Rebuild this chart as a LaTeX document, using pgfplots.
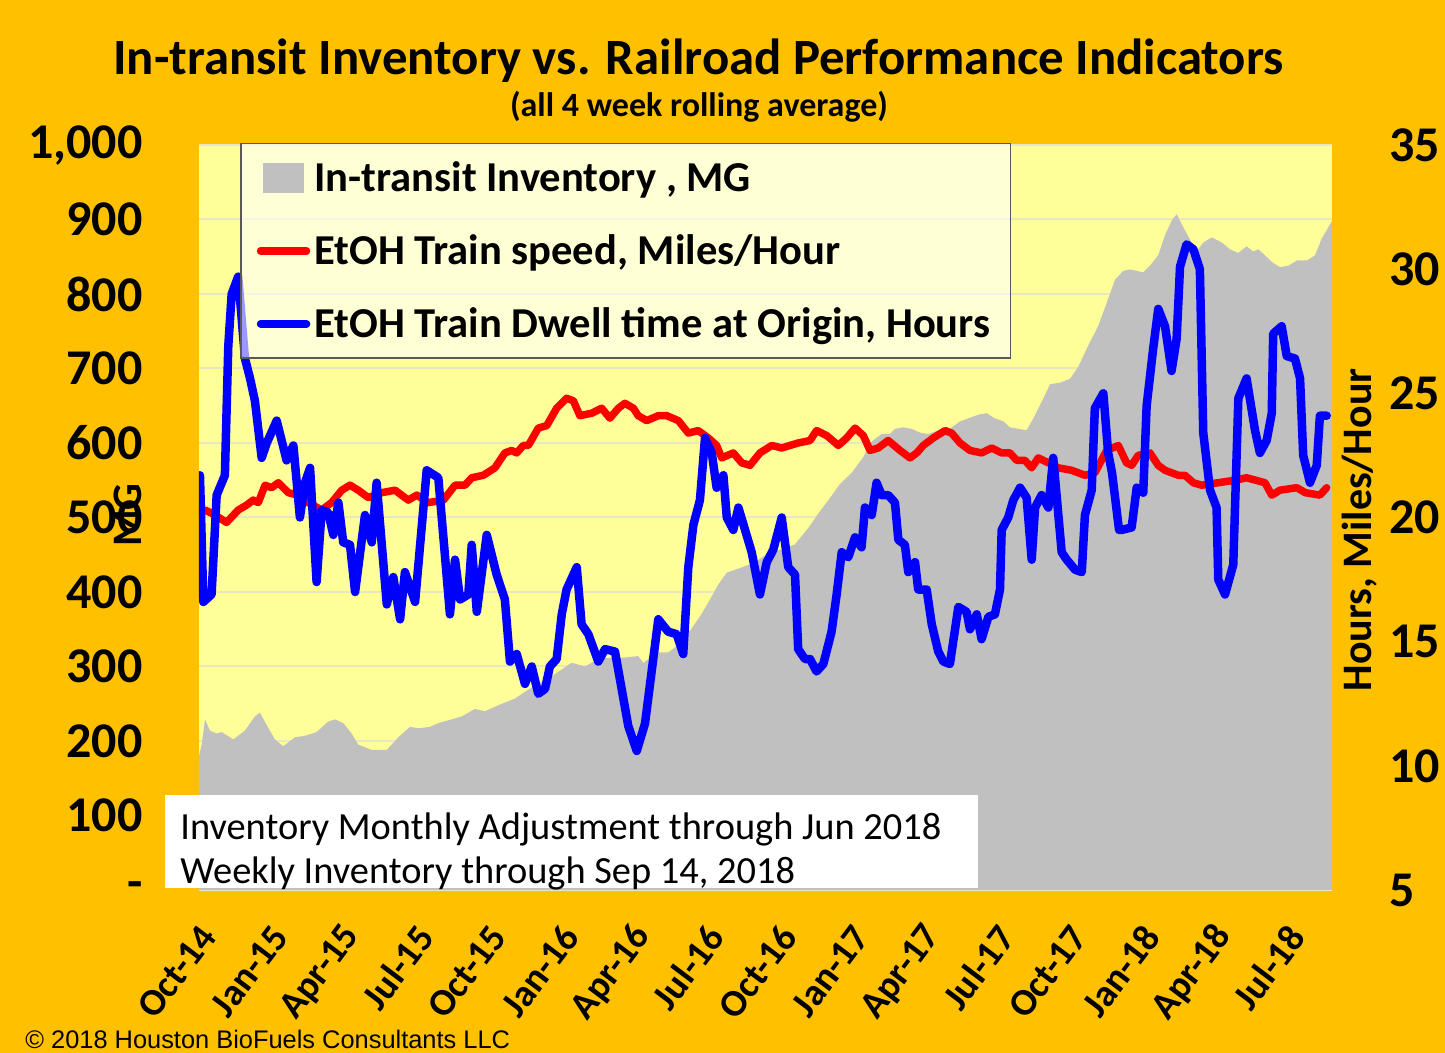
\documentclass[border=0pt]{standalone}
\usepackage{pgfplots}
\pgfplotsset{compat=1.18}
\usepackage{fontspec}
\setmainfont{Carlito}
\newfontfamily\arialf{Liberation Sans}
\definecolor{bgorange}{HTML}{FFC000}
\definecolor{plotyellow}{HTML}{FFFF99}
\definecolor{invgray}{HTML}{C0C0C0}
\definecolor{gridc}{HTML}{E8E8C0}
\definecolor{legborder}{HTML}{595959}
\begin{document}
\begin{tikzpicture}
\fill[bgorange] (-99.5pt,-81.5pt) rectangle (623pt,445pt);
\useasboundingbox (-99.5pt,-81.5pt) rectangle (623pt,445pt);
\begin{axis}[
  at={(0pt,0pt)}, anchor=south west,
  scale only axis, width=566.5pt, height=372.5pt,
  xmin=0, xmax=46.82, ymin=0, ymax=1000,
  axis background/.style={fill=plotyellow},
  axis x line*=bottom, axis y line*=left,
  axis line style={draw=none},
  ytick={0,100,...,1000},
  yticklabels={-,100,200,300,400,500,600,700,800,900,{1,000}},
  ymajorgrids, grid style={gridc, line width=1pt},
  ytick style={draw=none}, xtick style={draw=none},
  yticklabel style={font=\bfseries\fontsize{25}{25}\selectfont, anchor=east, inner sep=0pt, xshift=-28pt},
  xtick={0,3,...,45},
  xticklabels={Oct-14,Jan-15,Apr-15,Jul-15,Oct-15,Jan-16,Apr-16,Jul-16,Oct-16,Jan-17,Apr-17,Jul-17,Oct-17,Jan-18,Apr-18,Jul-18},
  xticklabel style={font=\bfseries\fontsize{19}{19}\selectfont, xshift=4.5pt, yshift=-20pt, rotate=53, anchor=east, inner sep=0pt},
]
\addplot[fill=invgray, draw=none] coordinates {
(0,180)(0.11,195)(0.25,229)(0.45,214)(0.73,210)(0.94,212)(1.42,202)(1.90,214)(2.31,233)(2.52,238)(2.80,221)(3.14,202)(3.48,193)(3.97,205)(4.38,207)(4.86,212)(5.34,226)(5.62,229)(5.96,224)(6.31,210)(6.58,195)(7.14,188)(7.76,188)(8.24,205)(8.72,219)(9.06,217)(9.55,219)(9.89,224)(10.44,229)(10.86,233)(11.40,243)(11.82,240)(12.37,248)(13.06,257)(13.61,269)(14.30,281)(14.85,293)(15.40,305)(15.95,300)(16.50,310)(17.05,312)(17.60,312)(18.15,314)(18.36,305)(18.98,319)(19.39,319)(19.81,329)(20.29,348)(20.70,367)(21.05,386)(21.46,410)(21.81,426)(22.43,433)(22.98,440)(23.52,452)(24.08,457)(24.63,464)(25.18,486)(25.59,505)(26.07,526)(26.49,545)(26.97,560)(27.45,581)(27.80,602)(28.21,612)(28.55,612)(28.76,619)(29.10,621)(29.45,619)(29.79,614)(30.14,612)(30.55,617)(31.03,619)(31.45,629)(31.79,633)(32.20,638)(32.55,640)(32.89,633)(33.24,629)(33.51,621)(33.86,619)(34.20,617)(34.48,633)(34.82,655)(35.17,679)(35.58,681)(35.99,686)(36.33,702)(36.75,731)(37.16,757)(37.51,788)(37.85,819)(38.19,831)(38.47,833)(38.75,831)(39.02,829)(39.30,838)(39.64,852)(39.92,879)(40.19,898)(40.40,907)(40.67,890)(41.02,869)(41.29,860)(41.50,869)(41.85,876)(42.27,869)(42.60,860)(42.95,855)(43.29,864)(43.57,857)(43.77,860)(44.05,852)(44.33,843)(44.67,836)(45.02,838)(45.37,845)(45.79,845)(46.12,852)(46.39,874)(46.82,898)
} \closedcycle;
\end{axis}
\begin{axis}[
  at={(0pt,0pt)}, anchor=south west,
  scale only axis, width=566.5pt, height=372.5pt,
  xmin=0, xmax=46.82, ymin=5, ymax=35,
  axis y line*=right, axis x line=none,
  axis line style={draw=none},
  ytick={5,10,...,35}, ytick style={draw=none},
  /pgf/number format/assume math mode=true,
  yticklabel style={font=\bfseries\fontsize{25}{25}\selectfont, anchor=west, inner sep=0pt, xshift=28.5pt},
  legend cell align=left,
  legend style={at={(0.0362,1.003)}, anchor=north west, fill=white, fill opacity=0.6, draw opacity=1, text opacity=1,
    draw=legborder, line width=0.8pt, font=\bfseries\fontsize{21.3}{21.3}\selectfont,
    inner xsep=8pt, inner ysep=7pt, row sep=16pt, nodes={inner xsep=2pt, inner ysep=2pt}},
  legend image code/.code={\draw[#1, line cap=round, line width=3.75pt] (0pt,0pt) -- (23pt,0pt);},
]
\addlegendimage{legend image code/.code={\fill[invgray, fill opacity=1] (1.5pt,-7pt) rectangle (21.5pt,7pt);}}
\addlegendentry{In-transit Inventory , MG}
\addplot[red, line width=3.75pt, line join=round, line cap=round] coordinates {
(0.0,20.2)(0.25,20.3)(0.66,20.1)(1.14,19.8)(1.62,20.3)(1.97,20.5)(2.24,20.7)(2.45,20.6)(2.73,21.3)(3.00,21.2)(3.28,21.4)(3.69,21.0)(4.10,20.9)(4.52,20.6)(5.07,20.3)(5.48,20.6)(5.90,21.1)(6.24,21.3)(6.58,21.1)(7.00,20.8)(7.55,21.0)(8.10,21.1)(8.65,20.7)(9.00,20.9)(9.48,20.6)(10.10,20.7)(10.58,21.3)(10.99,21.3)(11.27,21.6)(11.75,21.7)(12.23,22.0)(12.64,22.6)(12.92,22.7)(13.13,22.6)(13.40,22.9)(13.61,22.9)(14.02,23.6)(14.37,23.7)(14.78,24.4)(15.19,24.8)(15.47,24.7)(15.74,24.1)(16.23,24.2)(16.64,24.4)(16.98,24.0)(17.33,24.4)(17.60,24.6)(17.95,24.4)(18.15,24.1)(18.50,23.9)(18.98,24.1)(19.33,24.1)(19.81,23.9)(20.22,23.4)(20.63,23.5)(21.05,23.2)(21.39,22.9)(21.60,22.4)(22.08,22.6)(22.43,22.2)(22.77,22.1)(23.18,22.6)(23.67,22.9)(24.08,22.8)(24.42,22.9)(24.76,23.0)(25.25,23.1)(25.52,23.5)(25.94,23.3)(26.42,22.9)(26.76,23.2)(27.11,23.6)(27.45,23.3)(27.73,22.7)(28.07,22.8)(28.48,23.1)(28.97,22.7)(29.38,22.4)(29.66,22.6)(29.93,22.9)(30.34,23.2)(30.83,23.5)(31.10,23.4)(31.45,23.0)(31.86,22.7)(32.34,22.6)(32.76,22.8)(33.17,22.6)(33.51,22.6)(33.79,22.3)(34.13,22.3)(34.41,22.0)(34.68,22.4)(35.10,22.2)(35.51,22.0)(36.06,21.9)(36.61,21.7)(37.02,21.8)(37.51,22.7)(37.99,22.9)(38.33,22.2)(38.54,22.1)(38.81,22.5)(39.30,22.6)(39.64,22.1)(39.92,21.9)(40.47,21.7)(40.74,21.7)(41.09,21.4)(41.43,21.3)(42.12,21.4)(42.81,21.5)(43.29,21.6)(44.05,21.4)(44.33,20.9)(44.67,21.1)(45.37,21.2)(45.71,21.0)(46.32,20.9)(46.60,21.2)
};
\addlegendentry{EtOH Train speed, Miles/Hour}
\addplot[blue, line width=4.25pt, line join=round, line cap=round] coordinates {
(0.04,21.7)(0.18,16.6)(0.52,16.9)(0.73,20.9)(1.07,21.7)(1.21,26.9)(1.35,29.0)(1.62,29.7)(1.90,26.4)(2.11,25.6)(2.31,24.7)(2.59,22.4)(2.80,23.0)(3.21,23.9)(3.62,22.3)(3.90,22.9)(4.17,20.0)(4.38,21.4)(4.59,22.0)(4.86,17.4)(5.07,20.3)(5.34,20.2)(5.55,19.3)(5.76,20.6)(5.96,19.0)(6.24,18.9)(6.45,17.0)(6.86,20.1)(7.14,19.0)(7.34,21.4)(7.76,16.5)(8.03,17.6)(8.31,15.9)(8.51,17.8)(8.93,16.6)(9.41,21.9)(9.89,21.6)(10.37,16.1)(10.58,18.3)(10.79,16.7)(11.13,16.9)(11.27,18.9)(11.48,16.2)(11.89,19.3)(12.30,17.7)(12.64,16.7)(12.85,14.2)(13.13,14.5)(13.47,13.3)(13.75,14.0)(14.02,12.9)(14.30,13.1)(14.50,14.0)(14.78,14.3)(14.99,16.1)(15.19,17.1)(15.61,18.0)(15.81,15.7)(16.09,15.3)(16.50,14.2)(16.78,14.7)(17.19,14.6)(17.74,11.6)(18.09,10.6)(18.43,11.7)(18.98,15.9)(19.39,15.4)(19.74,15.3)(20.01,14.5)(20.22,18.0)(20.43,19.7)(20.70,20.7)(20.91,23.2)(21.19,22.6)(21.39,21.2)(21.67,21.7)(21.81,20.0)(22.08,19.5)(22.29,20.4)(22.84,18.6)(23.18,16.9)(23.46,18.2)(23.73,18.7)(24.08,20.0)(24.35,18.0)(24.63,17.7)(24.76,14.7)(25.04,14.3)(25.25,14.3)(25.52,13.8)(25.80,14.1)(26.14,15.4)(26.35,16.9)(26.56,18.6)(26.83,18.4)(27.11,19.2)(27.38,18.8)(27.52,20.4)(27.80,20.1)(28.00,21.4)(28.21,20.9)(28.48,20.9)(28.76,20.6)(28.90,19.1)(29.17,18.9)(29.31,17.8)(29.59,18.2)(29.72,17.1)(30.07,17.1)(30.28,15.7)(30.55,14.6)(30.76,14.2)(31.03,14.1)(31.38,16.4)(31.72,16.2)(31.86,15.5)(32.14,16.1)(32.34,15.1)(32.62,16.0)(32.89,16.1)(33.10,17.1)(33.17,19.5)(33.44,20.0)(33.65,20.7)(33.93,21.2)(34.20,20.8)(34.41,18.3)(34.55,20.4)(34.82,20.9)(35.10,20.4)(35.30,22.4)(35.65,18.6)(35.86,18.3)(36.20,17.9)(36.48,17.8)(36.61,20.1)(36.89,21.1)(37.02,24.4)(37.37,25.0)(37.57,22.6)(37.73,21.8)(38.02,19.5)(38.13,19.5)(38.54,19.6)(38.75,21.2)(39.02,21.0)(39.16,24.5)(39.43,26.8)(39.64,28.4)(39.92,27.7)(40.19,25.9)(40.40,27.2)(40.54,30.1)(40.81,31.0)(41.09,30.8)(41.36,30.0)(41.50,23.4)(41.78,21.1)(42.05,20.4)(42.12,17.5)(42.40,16.9)(42.74,18.1)(42.95,24.8)(43.29,25.6)(43.64,23.5)(43.84,22.6)(44.12,23.1)(44.33,24.2)(44.39,27.4)(44.74,27.7)(44.95,26.5)(45.29,26.4)(45.50,25.6)(45.63,22.5)(45.91,21.4)(46.19,22.1)(46.32,24.1)(46.60,24.1)
};
\addlegendentry{EtOH Train Dwell time at Origin, Hours}
\end{axis}
\fill[white] (-17pt,1pt) rectangle (389.5pt,47.5pt);
\node[anchor=base west, inner sep=0pt, font=\fontsize{19.2}{19.2}\selectfont] at (-9.5pt,25pt) {Inventory Monthly Adjustment through Jun 2018};
\node[anchor=base west, inner sep=0pt, font=\fontsize{19.2}{19.2}\selectfont] at (-9.5pt,3pt) {Weekly Inventory through Sep 14, 2018};
\node[anchor=base, inner sep=0pt, font=\bfseries\fontsize{25.4}{26}\selectfont] at (249.75pt,407.5pt) {In-transit Inventory vs. Railroad Performance Indicators};
\node[anchor=base, inner sep=0pt, font=\bfseries\fontsize{17}{17}\selectfont] at (250pt,386.5pt) {(all 4 week rolling average)};
\node[rotate=90, inner sep=0pt, font=\bfseries\fontsize{21}{21}\selectfont] at (-35.5pt,187.5pt) {MG};
\node[rotate=90, inner sep=0pt, font=\bfseries\fontsize{21}{21}\selectfont] at (580.5pt,180pt) {Hours, Miles/Hour};
\node[anchor=base west, inner sep=0pt, font=\arialf\fontsize{12.7}{12.7}\selectfont] at (-87pt,-79.5pt) {© 2018 Houston BioFuels Consultants LLC};
\end{tikzpicture}
\end{document}
